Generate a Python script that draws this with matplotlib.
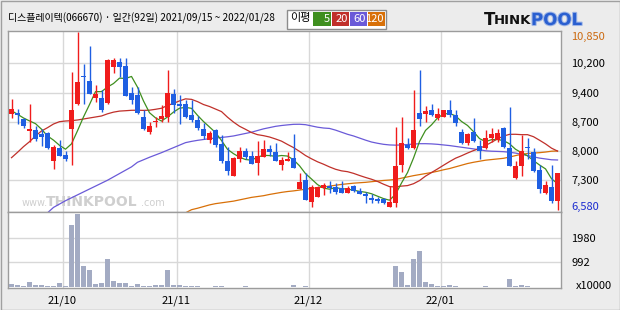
import matplotlib
matplotlib.use('Agg')
import matplotlib.pyplot as plt
from matplotlib.patches import Rectangle
import matplotlib.patheffects as pe
import numpy as np

plt.rcParams['font.family'] = ['Noto Sans CJK KR', 'DejaVu Sans']

# ---------------- data ----------------
opens = [8880, 8910, 8770, 8490, 8500, 8400, 8430, 7760, 8080, 7900,
         8520, 9130, 9800, 9680, 9280, 9260, 9140, 10020, 10140, 10030,
         9400, 9340, 8810, 8460, 8690, 8760, 8810, 9360, 9130, 9130,
         8850, 8740, 8530, 8260, 8500, 8160, 7760, 7390, 7810, 8000,
         7890, 7720, 7860, 8050, 7980, 7670, 7770, 7840, 7090, 7310,
         6790, 6910, 7120, 7160, 7130, 7110, 7000, 7160, 7040, 6960,
         6880, 6840, 6840, 6670, 6750, 7670, 8140, 8060, 8900, 8880,
         8980, 8780, 8820, 8980, 8860, 8450, 8180, 8450, 8120, 8060,
         8310, 8260, 8550, 8060, 7360, 7630, 8100, 7970, 7550, 7000,
         7140, 6800]
highs = [9240, 9010, 8800, 9130, 8600, 8530, 8450, 8140, 8260, 8010,
         9900, 10850, 10080, 10520, 9580, 9460, 10190, 10230, 10220, 10230,
         9540, 9540, 8980, 8690, 8810, 9090, 9940, 9480, 9340, 9220,
         9210, 8840, 8660, 8480, 8530, 8380, 8090, 7860, 8090, 8080,
         8000, 8240, 8260, 8140, 8200, 7860, 7970, 8410, 7470, 7470,
         7190, 7160, 7240, 7280, 7230, 7280, 7170, 7180, 7120, 7010,
         6960, 6910, 6870, 7170, 8580, 8810, 8320, 9460, 9950, 9080,
         9130, 9020, 8980, 9220, 8980, 8530, 8420, 8780, 8260, 8500,
         8550, 8530, 8570, 9050, 7750, 8390, 8310, 8060, 7670, 7270,
         7670, 7470]
lows = [8780, 8640, 8560, 8220, 8240, 8120, 8050, 7580, 7880, 7770,
        7670, 9110, 9130, 9360, 9180, 8930, 9130, 9860, 9780, 9320,
        9130, 8890, 8500, 8400, 8580, 8700, 8700, 8900, 8640, 8790,
        8700, 8500, 8280, 8200, 8100, 7720, 7430, 7390, 7730, 7800,
        7680, 7430, 7850, 7880, 7760, 7550, 7750, 7590, 7080, 6830,
        6650, 6910, 6950, 7000, 6970, 6990, 7000, 7030, 6960, 6760,
        6760, 6760, 6720, 6650, 6670, 7500, 8050, 8050, 8610, 8700,
        8840, 8740, 8810, 8810, 8610, 8170, 8140, 8210, 7820, 8050,
        8220, 8210, 8080, 7630, 7320, 7390, 7820, 7500, 7000, 6970,
        6760, 6580]
closes = [9000, 8870, 8610, 8510, 8280, 8340, 8060, 8100, 7890, 7820,
          8980, 9640, 9760, 9370, 9360, 8980, 10180, 10180, 10020, 9320,
          9220, 8900, 8520, 8610, 8710, 8840, 9400, 9100, 9080, 8810,
          8730, 8560, 8360, 8420, 8140, 7770, 7510, 7840, 8000, 7860,
          7690, 7880, 8050, 7980, 7770, 7790, 7820, 7600, 7260, 6830,
          7150, 7150, 7190, 7120, 7030, 7000, 7110, 7050, 6980, 6920,
          6830, 6810, 6760, 6790, 7630, 8180, 8060, 8500, 8770, 8960,
          8850, 8880, 8970, 8850, 8660, 8180, 8400, 8240, 8010, 8300,
          8410, 8420, 8100, 7630, 7650, 7990, 8060, 7530, 7100, 7190,
          6810, 7470]
volumes = [147, 107, 67, 227, 107, 107, 67, 67, 187, 67,
           2467, 2907, 867, 707, 147, 187, 1107, 267, 173, 187,
           67, 147, 67, 67, 107, 107, 707, 107, 107, 67,
           67, 40, 27, 27, 67, 67, 27, 27, 27, 67,
           27, 27, 27, 27, 27, 27, 27, 107, 27, 67,
           27, 27, 27, 27, 27, 27, 27, 27, 27, 27,
           27, 27, 27, 27, 867, 627, 107, 1107, 1427, 227,
           147, 67, 67, 107, 67, 27, 27, 27, 27, 67,
           27, 27, 27, 347, 67, 107, 67, 27, 27, 27,
           27, 27]
ma5 = [8965, 8880, 8790, 8720, 8654, 8522, 8360, 8260, 8136, 8043,
       8171, 8485, 8815, 9112, 9421, 9421, 9530, 9615, 9744, 9736,
       9784, 9528, 9197, 8916, 8793, 8716, 8815, 8932, 9024, 9044,
       9021, 8854, 8705, 8574, 8442, 8251, 8040, 7936, 7852, 7796,
       7780, 7855, 7896, 7891, 7872, 7892, 7879, 7790, 7646, 7458,
       7330, 7196, 7113, 7086, 7126, 7097, 7089, 7062, 7033, 7013,
       6977, 6918, 6861, 6822, 6963, 7234, 7483, 7831, 8227, 8493,
       8626, 8790, 8884, 8900, 8841, 8707, 8611, 8464, 8297, 8225,
       8271, 8276, 8249, 8172, 8042, 7959, 7885, 7770, 7665, 7572,
       7336, 7218]
ma20 = [7840, 7968, 8104, 8223, 8359, 8479, 8558, 8646, 8702, 8718,
        8726, 8742, 8766, 8790, 8814, 8838, 8890, 8930, 8955, 8964,
        8974, 8976, 8972, 8977, 8998, 9023, 9090, 9140, 9199, 9248,
        9236, 9182, 9112, 9065, 9004, 8943, 8809, 8692, 8592, 8519,
        8442, 8391, 8367, 8335, 8288, 8236, 8157, 8082, 7991, 7892,
        7813, 7742, 7684, 7619, 7563, 7525, 7505, 7465, 7414, 7367,
        7324, 7271, 7206, 7147, 7140, 7160, 7172, 7217, 7292, 7399,
        7484, 7570, 7659, 7746, 7827, 7886, 7951, 8010, 8061, 8130,
        8209, 8290, 8357, 8399, 8400, 8391, 8391, 8342, 8258, 8170,
        8068, 7998]
nan = float('nan')
ma60 = [nan, nan, nan, nan, nan, nan, 6520, 6650, 6730, 6810,
        6880, 6950, 7020, 7090, 7160, 7230, 7300, 7380, 7460, 7540,
        7620, 7730, 7790, 7850, 7905, 7960, 8020, 8080, 8140, 8200,
        8230, 8255, 8275, 8295, 8310, 8325, 8340, 8360, 8390, 8420,
        8450, 8490, 8530, 8560, 8590, 8610, 8625, 8638, 8640, 8630,
        8600, 8570, 8550, 8540, 8500, 8450, 8400, 8360, 8310, 8260,
        8215, 8185, 8160, 8145, 8140, 8145, 8155, 8165, 8175, 8175,
        8170, 8160, 8145, 8130, 8110, 8090, 8070, 8050, 8030, 8005,
        7995, 7990, 7984, 7970, 7950, 7920, 7890, 7860, 7830, 7810,
        7790, 7785]
ma120 = [nan] * 29 + [
        6520, 6595, 6630, 6670, 6710, 6740, 6760, 6780, 6800, 6830,
        6860, 6890, 6910, 6930, 6960, 6985, 7010, 7030, 7045, 7065,
        7085, 7105, 7120, 7140, 7160, 7180, 7200, 7215, 7230, 7240,
        7250, 7265, 7280, 7295, 7305, 7320, 7350, 7380, 7410, 7435,
        7460, 7485, 7515, 7550, 7580, 7620, 7660, 7700, 7730, 7755,
        7780, 7795, 7810, 7825, 7855, 7890, 7920, 7940, 7950, 7960,
        7975, 7995, 8000]

month_first_idx = [9, 28, 50, 72]
month_labels = ['21/10', '21/11', '21/12', '22/01']
price_ticks = [7300, 8000, 8700, 9400, 10100]
price_tick_labels = ['7,300', '8,000', '8,700', '9,400', '10,200']
price_max, price_min = 10850, 6580
vol_ticks = [992, 1980]
vol_tick_labels = ['992', '1980']
title = '디스플레이텍(066670) · 일간(92일) 2021/09/15 ~ 2022/01/28'
ma_names = ['5', '20', '60', '120']

# ---------------- style ----------------
RED = '#f01c1c'
BLUE = '#1f5fe2'
MA_COLORS = ['#3f8f1f', '#c0302a', '#6a5ad8', '#d87008']
GRID = '#d8d8d8'
FRAME = '#9c9c9c'
BG = '#ececec'

W, H = 620, 310
fig = plt.figure(figsize=(W / 100, H / 100), dpi=100, facecolor=BG)


def px_axes(l, t, r, b, **kw):
    return fig.add_axes([l / W, 1 - b / H, (r - l) / W, (b - t) / H], **kw)


ax = px_axes(7.5, 31, 561, 212)
axv = px_axes(7.5, 212, 561, 288)
deco = px_axes(0, 0, W, H, zorder=10)
deco.set_xlim(0, W)
deco.set_ylim(H, 0)
deco.axis('off')
deco.patch.set_alpha(0)

n = len(closes)
x = np.arange(n)
o = np.array(opens, float)
c = np.array(closes, float)
hi = np.array(highs, float)
lo = np.array(lows, float)
cols = [RED if cc >= oo else BLUE for oo, cc in zip(o, c)]
body_bottom = np.minimum(o, c)
body_h = np.maximum(np.abs(c - o), 25)

for a in (ax, axv):
    a.set_facecolor('white')
    a.set_xlim(-0.667, 91.58)
    a.set_xticks([m - 0.5 for m in month_first_idx])
    a.grid(True, color=GRID, lw=1.0, zorder=0)
    a.set_axisbelow(True)
    for s in a.spines.values():
        s.set_color(FRAME)
        s.set_linewidth(1.0)
    a.yaxis.tick_right()
    a.tick_params(axis='both', length=0, labelsize=8)

# watermark
wm = dict(transform=deco.transData, color='#cfcfcf', va='center', zorder=1,
          family='DejaVu Sans')
ax.text(22, 203.5, 'www.', fontsize=7, ha='left', **wm)
ax.text(46, 202, 'THINKPOOL', fontsize=10, ha='left', fontweight='bold', **wm)
ax.text(141, 203.5, '.com', fontsize=7, ha='left', **wm)

# candles
ax.vlines(x, lo, hi, colors=cols, linewidth=1.0, zorder=3)
ax.bar(x, body_h, bottom=body_bottom, width=0.8, color=cols, linewidth=0, zorder=4)

# moving averages
for vals, col in zip([ma120, ma60, ma20, ma5], MA_COLORS[::-1]):
    ax.plot(x, vals, color=col, lw=0.9, zorder=2)

ax.set_ylim(6540, 10872)
ax.set_yticks(price_ticks)
ax.set_yticklabels(price_tick_labels)
ax.tick_params(axis='y', pad=7.2)
ax.tick_params(axis='x', labelbottom=False)
ax.annotate(f'{price_max:,}', xy=(1, price_max), xycoords=('axes fraction', 'data'),
            xytext=(7.2, -3.8), textcoords='offset points', color='#cc6a10',
            fontsize=8, va='center', ha='left')
ax.annotate(f'{price_min:,}', xy=(1, price_min), xycoords=('axes fraction', 'data'),
            xytext=(7.2, 2.6), textcoords='offset points', color='#1a2ad0',
            fontsize=8, va='center', ha='left')

# volume
axv.bar(x, volumes, width=0.8, color='#a3abc3', linewidth=0, zorder=3)
axv.set_ylim(-30, 3000)
axv.set_yticks(vol_ticks)
axv.set_yticklabels(vol_tick_labels)
axv.tick_params(axis='y', pad=7.2)
axv.set_xticklabels(month_labels)
axv.tick_params(axis='x', pad=5.5)
deco.text(576, 286, 'x10000', fontsize=8, ha='left', va='center')

# header
deco.text(8, 18.5, title, fontsize=7.2, ha='left', va='center')
deco.add_patch(Rectangle((287, 9.5), 99, 19, facecolor='white', edgecolor='#8c8c8c', lw=1))
deco.text(300, 18.5, '이평', fontsize=8, ha='center', va='center')
boxes = [(313, 18), (332, 17), (350, 17), (368, 17)]
for (bx, bw), name, col in zip(boxes, ma_names, MA_COLORS):
    deco.add_patch(Rectangle((bx, 12), bw, 14, facecolor=col, edgecolor='none'))
    deco.text(bx + bw - 1.5, 19, name, fontsize=8, color='white', ha='right', va='center')

# logo
deco.text(484, 20, 'T', fontsize=12, fontweight='black', family='DejaVu Sans',
          ha='left', va='center', color='#111111')
deco.text(494, 21, 'HINK', fontsize=9.5, fontweight='black', family='DejaVu Sans',
          ha='left', va='center', color='#111111')
deco.text(531, 20, 'POOL', fontsize=12, fontweight='black', family='DejaVu Sans',
          ha='left', va='center', color='#2a5fd0',
          path_effects=[pe.withStroke(linewidth=1.5, foreground='#9fb6e6')])

# outer border
deco.add_patch(Rectangle((0.5, 0.5), W - 1, H - 1, fill=False, edgecolor='#a0a0a0', lw=1))

fig.savefig('out.png', dpi=100, facecolor=BG)
